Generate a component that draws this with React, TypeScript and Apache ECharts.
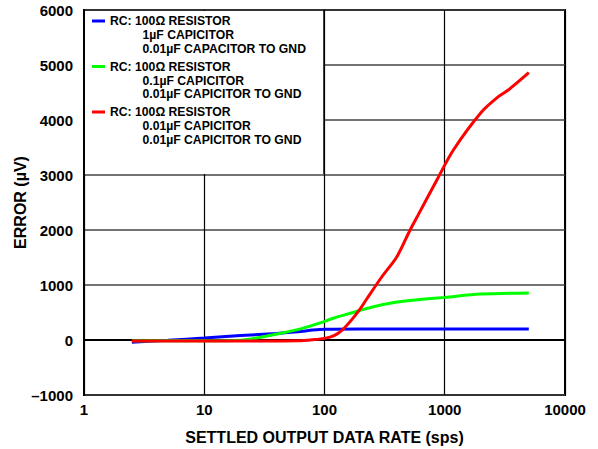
import React, { useEffect, useRef } from "react";
import * as echarts from "echarts";

const xTicks = [1, 10, 100, 1000, 10000];
const yMin = -1000;
const yMax = 6000;
const yStep = 1000;

const blueX = [2.5, 5, 10, 20, 40, 60, 80, 100, 200, 500, 1000, 2000, 5000];
const blueY = [-40, -5, 35, 80, 120, 150, 180, 195, 200, 200, 200, 200, 200];

const greenX = [2.5, 10, 20, 31, 45, 55, 70, 92, 120, 172, 250, 400, 590, 1000, 2000, 5000];
const greenY = [-15, -15, -5, 60, 130, 170, 230, 310, 400, 500, 600, 690, 730, 775, 835, 855];

const redX = [2.5, 10, 30, 60, 80, 100, 120, 140, 170, 200, 225, 300, 400, 515, 600, 860, 1180, 2030, 2790, 3375, 5000];
const redY = [-20, -20, -20, -15, 5, 30, 80, 180, 380, 580, 750, 1150, 1515, 2000, 2270, 2910, 3455, 4150, 4425, 4545, 4860];

const legendLines = [
  ["RC: 100Ω RESISTOR", "1µF CAPICITOR", "0.01µF CAPACITOR TO GND"],
  ["RC: 100Ω RESISTOR", "0.1µF CAPICITOR", "0.01µF CAPICITOR TO GND"],
  ["RC: 100Ω RESISTOR", "0.01µF CAPICITOR", "0.01µF CAPICITOR TO GND"],
];
const colors = ["#0000ff", "#00ff00", "#ff0000"];

const pairs = (xs: number[], ys: number[]) => xs.map((x, i) => [x, ys[i]]);

export default function App() {
  const ref = useRef<HTMLDivElement>(null);
  useEffect(() => {
    if (!ref.current) return;
    const chart = echarts.init(ref.current, null, { renderer: "svg" });
    const font = "'Liberation Sans', Arial, sans-serif";
    const graphics: any[] = [
      {
        type: "rect",
        z: 100,
        shape: { x: 85, y: 11, width: 239, height: 163 },
        style: { fill: "#fff", stroke: null },
      },
      {
        type: "line",
        z: 101,
        shape: { x1: 324, y1: 10, x2: 324, y2: 174 },
        style: { stroke: "#000", lineWidth: 1.5 },
      },
    ];
    const groupTops = [22, 67.5, 113];
    const step = 13.8;
    legendLines.forEach((lines, gi) => {
      const y0 = groupTops[gi];
      graphics.push({
        type: "line",
        z: 102,
        shape: { x1: 92, y1: y0 - 1, x2: 105, y2: y0 - 1 },
        style: { stroke: colors[gi], lineWidth: 3 },
      });
      lines.forEach((t, li) => {
        graphics.push({
          type: "text",
          z: 102,
          x: li === 0 ? 110 : 142.5,
          y: y0 - 0.8 + li * step,
          style: {
            text: t,
            fill: "#000",
            font: `bold 12.2px ${font}`,
            verticalAlign: "middle",
            align: "left",
          },
        });
      });
    });

    chart.setOption({
      animation: false,
      backgroundColor: "#fff",
      grid: {
        left: 84,
        top: 10,
        width: 481,
        height: 385,
        show: true,
        borderColor: "#000",
        borderWidth: 2,
        outerBoundsMode: "none",
        containLabel: false,
      },
      xAxis: {
        type: "log",
        logBase: 10,
        min: xTicks[0],
        max: xTicks[xTicks.length - 1],
        name: "SETTLED OUTPUT DATA RATE (sps)",
        nameLocation: "middle",
        nameGap: 34,
        nameMoveOverlap: false,
        nameTextStyle: {
          fontFamily: font,
          fontWeight: "bold",
          fontSize: 16,
          color: "#000",
          verticalAlign: "top",
        },
        axisLine: { show: true, lineStyle: { color: "#000", width: 2 } },
        axisTick: { show: false },
        axisLabel: {
          fontFamily: font,
          fontWeight: "bold",
          fontSize: 15,
          color: "#000",
          margin: 7,
          hideOverlap: false,
          formatter: (v: number) => String(Math.round(v)),
        },
        splitLine: { show: true, lineStyle: { color: "#000", width: 1.2 } },
        minorTick: { show: false },
      },
      yAxis: {
        type: "value",
        min: yMin,
        max: yMax,
        interval: yStep,
        name: "ERROR (µV)",
        nameLocation: "middle",
        nameGap: 56,
        nameMoveOverlap: false,
        nameTextStyle: {
          fontFamily: font,
          fontWeight: "bold",
          fontSize: 16,
          color: "#000",
          verticalAlign: "bottom",
        },
        axisLine: { show: true, lineStyle: { color: "#000", width: 2 } },
        axisTick: { show: false },
        axisLabel: {
          fontFamily: font,
          fontWeight: "bold",
          fontSize: 15,
          color: "#000",
          margin: 11,
          verticalAlign: "middle",
          hideOverlap: false,
          formatter: (v: number) => (v < 0 ? "–" + Math.abs(v) : String(v)),
        },
        splitLine: { show: true, lineStyle: { color: "#444", width: 1.5 } },
      },
      graphic: graphics,
      series: [
        {
          type: "line",
          data: pairs(blueX, blueY),
          showSymbol: false,
          smooth: 0.3,
          lineStyle: { color: colors[0], width: 3 },
          z: 3,
        },
        {
          type: "line",
          data: pairs(greenX, greenY),
          showSymbol: false,
          smooth: 0.3,
          lineStyle: { color: colors[1], width: 3 },
          z: 4,
        },
        {
          type: "line",
          data: pairs(redX, redY),
          showSymbol: false,
          smooth: 0.3,
          lineStyle: { color: colors[2], width: 3 },
          z: 5,
        },
      ],
    });
    return () => chart.dispose();
  }, []);
  return (
    <div
      ref={ref}
      style={{ position: "fixed", left: 0, top: 0, width: 598, height: 449 }}
    />
  );
}
